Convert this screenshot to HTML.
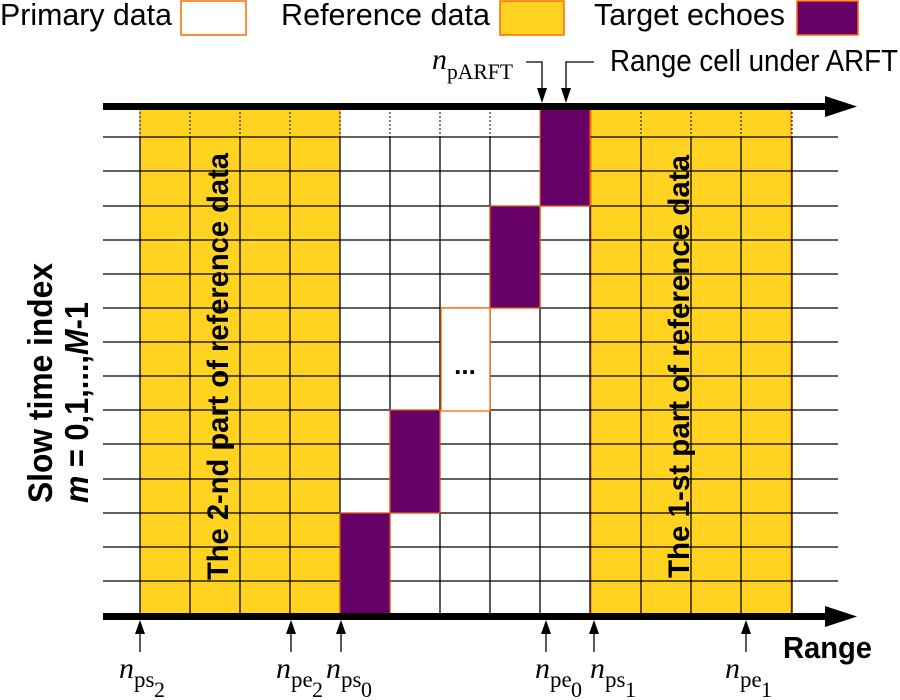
<!DOCTYPE html>
<html><head><style>body{margin:0;background:#fff}svg{display:block}</style></head><body>
<svg width="900" height="700" viewBox="0 0 900 700" xmlns="http://www.w3.org/2000/svg" font-family="Liberation Sans, sans-serif">
<rect width="900" height="700" fill="#fff"/>
<!-- legend -->
<text x="0" y="25" font-size="31" textLength="172" lengthAdjust="spacingAndGlyphs">Primary data</text>
<rect x="181" y="1" width="65" height="34" fill="#fff" stroke="#ff6a00" stroke-width="1.5"/>
<text x="281" y="25" font-size="31" textLength="209" lengthAdjust="spacingAndGlyphs">Reference data</text>
<rect x="500" y="1" width="64" height="34" fill="#ffd320" stroke="#ff6a00" stroke-width="1.5"/>
<text x="594" y="25" font-size="31" textLength="191" lengthAdjust="spacingAndGlyphs">Target echoes</text>
<rect x="797" y="1" width="61" height="34" fill="#660066" stroke="#ff6a00" stroke-width="1.5"/>
<!-- fills -->
<rect x="140" y="104" width="200" height="511" fill="#ffd320" stroke="#ff6a00" stroke-width="1"/>
<rect x="591" y="104" width="200" height="511" fill="#ffd320" stroke="#ff6a00" stroke-width="1"/>
<!-- grid -->
<g stroke="#000" stroke-width="1.3">
<line x1="103" y1="137" x2="838" y2="137"/><line x1="103" y1="171" x2="838" y2="171"/>
<line x1="103" y1="206" x2="838" y2="206"/><line x1="103" y1="240" x2="838" y2="240"/>
<line x1="103" y1="274" x2="838" y2="274"/><line x1="103" y1="308" x2="838" y2="308"/>
<line x1="103" y1="342" x2="838" y2="342"/>
<line x1="103" y1="376" x2="838" y2="376"/>
<line x1="103" y1="410" x2="838" y2="410"/><line x1="103" y1="444" x2="838" y2="444"/>
<line x1="103" y1="479" x2="838" y2="479"/><line x1="103" y1="513" x2="838" y2="513"/>
<line x1="103" y1="547" x2="838" y2="547"/><line x1="103" y1="581" x2="838" y2="581"/>
</g>
<g stroke="#000" stroke-width="1.3">
<line x1="140" y1="137" x2="140" y2="615"/><line x1="190" y1="137" x2="190" y2="615"/>
<line x1="240" y1="137" x2="240" y2="615"/><line x1="290" y1="137" x2="290" y2="615"/>
<line x1="340" y1="137" x2="340" y2="615"/><line x1="390" y1="137" x2="390" y2="615"/>
<line x1="440" y1="137" x2="440" y2="615"/>
<line x1="490" y1="137" x2="490" y2="615"/>
<line x1="540" y1="206" x2="540" y2="615"/><line x1="590" y1="206" x2="590" y2="615"/>
<line x1="641" y1="137" x2="641" y2="615"/><line x1="691" y1="137" x2="691" y2="615"/>
<line x1="741" y1="137" x2="741" y2="615"/><line x1="792" y1="137" x2="792" y2="615"/>
</g>
<g stroke="#000" stroke-width="1" stroke-dasharray="2,2">
<line x1="140" y1="104" x2="140" y2="137"/><line x1="190" y1="104" x2="190" y2="137"/>
<line x1="240" y1="104" x2="240" y2="137"/><line x1="290" y1="104" x2="290" y2="137"/>
<line x1="340" y1="104" x2="340" y2="137"/><line x1="390" y1="104" x2="390" y2="137"/>
<line x1="440" y1="104" x2="440" y2="137"/><line x1="490" y1="104" x2="490" y2="137"/>
<line x1="641" y1="104" x2="641" y2="137"/><line x1="691" y1="104" x2="691" y2="137"/>
<line x1="741" y1="104" x2="741" y2="137"/><line x1="792" y1="104" x2="792" y2="137"/>
</g>
<!-- purple cells -->
<rect x="540" y="104" width="50" height="102" fill="#660066" stroke="#ff6a00"/>
<rect x="490" y="206" width="50" height="102" fill="#660066" stroke="#ff6a00"/>
<rect x="390" y="410" width="50" height="103" fill="#660066" stroke="#ff6a00"/>
<rect x="340" y="513" width="50" height="102" fill="#660066" stroke="#ff6a00"/>
<rect x="441" y="308" width="49" height="103" fill="#fff" stroke="#ff6a00" stroke-width="1.3"/>
<text x="465" y="374" font-size="26" font-weight="bold" text-anchor="middle">...</text>
<!-- axes -->
<rect x="103" y="103" width="725" height="7" fill="#000"/>
<polygon points="825,96 857,106.5 825,117" fill="#000"/>
<rect x="103" y="613" width="725" height="7" fill="#000"/>
<polygon points="825,606 857,616.5 825,627" fill="#000"/>
<!-- top arrows -->
<g stroke="#000" stroke-width="1.3" fill="none">
<polyline points="526,62 542,62 542,90"/><polyline points="594,62 566,62 566,90"/>
</g>
<polygon points="537,88 547,88 542,103" fill="#000"/>
<polygon points="561,88 571,88 566,103" fill="#000"/>
<text x="432" y="69" font-family="Liberation Serif, serif" font-size="30" font-style="italic">n</text>
<text x="447" y="79" font-family="Liberation Serif, serif" font-size="22" textLength="66" lengthAdjust="spacingAndGlyphs">pARFT</text>
<text x="610" y="71" font-size="31" textLength="288" lengthAdjust="spacingAndGlyphs">Range cell under ARFT</text>
<!-- bottom arrows -->
<g stroke="#000" stroke-width="1.3">
<line x1="140" y1="630" x2="140" y2="652"/><line x1="291" y1="630" x2="291" y2="652"/>
<line x1="341" y1="630" x2="341" y2="652"/><line x1="546" y1="630" x2="546" y2="652"/>
<line x1="594" y1="630" x2="594" y2="652"/><line x1="746" y1="630" x2="746" y2="652"/>
</g>
<g fill="#000">
<polygon points="135,634 145,634 140,620"/><polygon points="286,634 296,634 291,620"/>
<polygon points="336,634 346,634 341,620"/><polygon points="541,634 551,634 546,620"/>
<polygon points="589,634 599,634 594,620"/><polygon points="741,634 751,634 746,620"/>
</g>
<g font-family="Liberation Serif, serif">
<text x="119" y="678" font-size="30" font-style="italic">n</text><text x="134" y="687" font-size="23">ps</text><text x="154" y="697" font-size="22">2</text>
<text x="276" y="678" font-size="30" font-style="italic">n</text><text x="291" y="687" font-size="23">pe</text><text x="312" y="697" font-size="22">2</text>
<text x="326" y="678" font-size="30" font-style="italic">n</text><text x="341" y="687" font-size="23">ps</text><text x="361" y="697" font-size="22">0</text>
<text x="535" y="678" font-size="30" font-style="italic">n</text><text x="550" y="687" font-size="23">pe</text><text x="571" y="697" font-size="22">0</text>
<text x="590" y="678" font-size="30" font-style="italic">n</text><text x="605" y="687" font-size="23">ps</text><text x="625" y="697" font-size="22">1</text>
<text x="725" y="678" font-size="30" font-style="italic">n</text><text x="740" y="687" font-size="23">pe</text><text x="761" y="697" font-size="22">1</text>
</g>
<text x="783" y="658" font-size="31" font-weight="bold" textLength="89" lengthAdjust="spacingAndGlyphs">Range</text>
<!-- rotated labels -->
<text transform="translate(52,503) rotate(-90)" font-size="34" font-weight="bold" textLength="240" lengthAdjust="spacingAndGlyphs">Slow time index</text>
<text transform="translate(88,503) rotate(-90)" font-size="33" font-weight="bold" textLength="201" lengthAdjust="spacingAndGlyphs"><tspan font-style="italic">m</tspan> = 0,1,...,<tspan font-style="italic">M</tspan>-1</text>
<text transform="translate(228,580) rotate(-90)" font-size="30" font-weight="bold" textLength="427" lengthAdjust="spacingAndGlyphs">The 2-nd part of reference data</text>
<text transform="translate(689,578) rotate(-90)" font-size="30" font-weight="bold" textLength="423" lengthAdjust="spacingAndGlyphs">The 1-st part of reference data</text>
</svg>
</body></html>
